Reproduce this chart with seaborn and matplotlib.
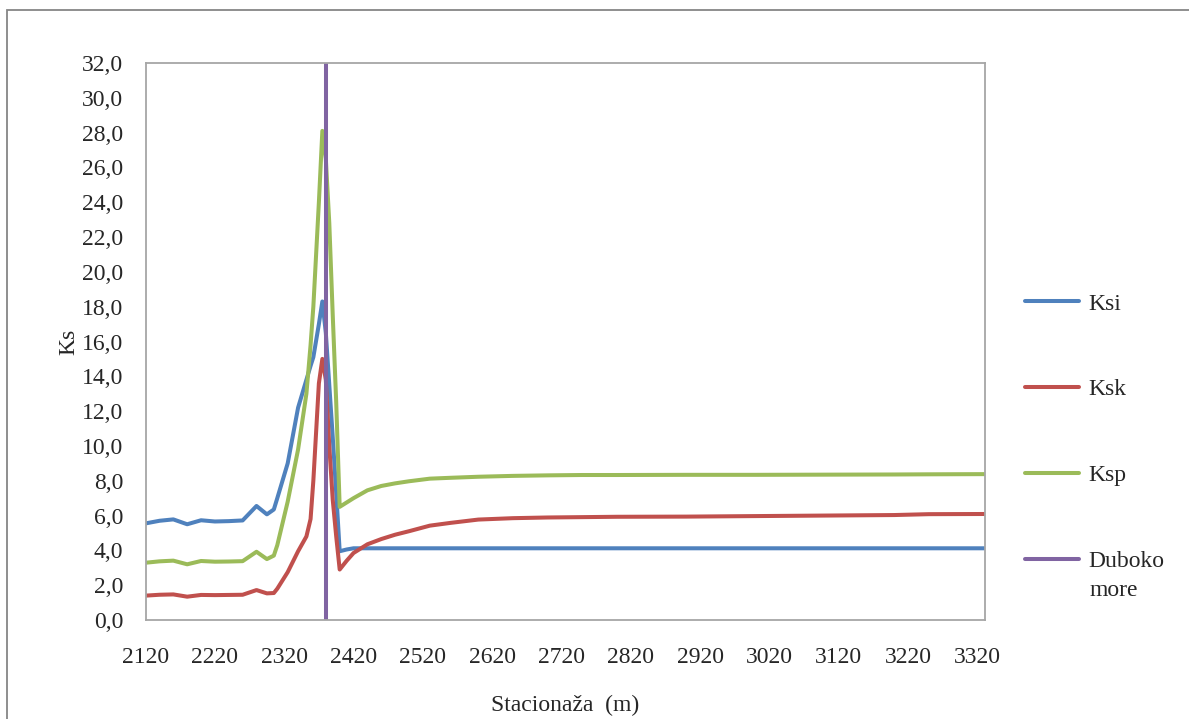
import pandas as pd
import seaborn as sns
from matplotlib import pyplot as plt
from matplotlib.patches import Rectangle

# stacionaža (m)
stations = [2120, 2140, 2160, 2180, 2200, 2220, 2240, 2260, 2280, 2295,
            2305, 2310, 2325, 2340, 2352, 2358, 2362, 2370, 2375, 2380,
            2385, 2390, 2395, 2400, 2410, 2420, 2440, 2460, 2480, 2500,
            2530, 2560, 2600, 2650, 2700, 2750, 2800, 2900, 3000, 3100,
            3200, 3250, 3330]

ksi = [5.55, 5.70, 5.78, 5.50, 5.73, 5.66, 5.68, 5.72, 6.55, 6.07,
       6.35, 7.00, 9.00, 12.2, 13.8, 14.6, 15.1, 17.0, 18.3, 16.5,
       13.5, 10.5, 7.30, 3.95, 4.05, 4.12, 4.12, 4.12, 4.12, 4.12,
       4.12, 4.12, 4.12, 4.12, 4.12, 4.12, 4.12, 4.12, 4.12, 4.12,
       4.12, 4.12, 4.12]

ksk = [1.40, 1.45, 1.47, 1.34, 1.44, 1.43, 1.44, 1.45, 1.72, 1.53,
       1.55, 1.80, 2.75, 3.95, 4.80, 5.80, 8.00, 13.6, 15.0, 13.8,
       10.0, 6.90, 4.80, 2.90, 3.40, 3.85, 4.35, 4.65, 4.90, 5.10,
       5.42, 5.58, 5.77, 5.85, 5.89, 5.91, 5.93, 5.94, 5.97, 6.00,
       6.03, 6.08, 6.09]

ksp = [3.29, 3.37, 3.41, 3.20, 3.39, 3.35, 3.36, 3.38, 3.92, 3.50,
       3.70, 4.30, 6.80, 9.80, 13.0, 15.8, 18.0, 24.0, 28.1, 26.5,
       22.8, 17.5, 12.5, 6.50, 6.75, 7.00, 7.45, 7.70, 7.85, 7.97,
       8.12, 8.17, 8.23, 8.28, 8.31, 8.33, 8.33, 8.34, 8.34, 8.35,
       8.36, 8.37, 8.38]

# granica dubokog mora
deep_x = [2380, 2380]
deep_y = [0, 32]

series_names = ["Ksi", "Ksk", "Ksp", "Duboko"]
colors = ["#4F81BD", "#C0504D", "#9BBB59", "#8064A2"]

y_ticks = list(range(0, 33, 2))
y_labels = [f"{v:.1f}".replace(".", ",") for v in y_ticks]
x_ticks = list(range(2120, 3321, 100))

df = pd.concat([
    pd.DataFrame({"x": stations, "y": ksi, "s": series_names[0]}),
    pd.DataFrame({"x": stations, "y": ksk, "s": series_names[1]}),
    pd.DataFrame({"x": stations, "y": ksp, "s": series_names[2]}),
    pd.DataFrame({"x": deep_x, "y": deep_y, "s": series_names[3]}),
], ignore_index=True)

sns.set_style("white")
plt.rcParams['font.family'] = ['Liberation Serif', 'DejaVu Serif']
fs = 17

fig = plt.figure(figsize=(11.89, 7.19), dpi=100)
ax = fig.add_axes([145.6 / 1189, 99 / 719, (985 - 145.6) / 1189, (620 - 63) / 719])

sns.lineplot(data=df, x="x", y="y", hue="s", hue_order=series_names,
             palette=colors, sort=False, estimator=None, linewidth=2.9,
             solid_capstyle="round", ax=ax)

ax.set_xlim(2120, 3331)
ax.set_ylim(0, 32)
ax.set_xticks(x_ticks)
ax.set_xticklabels([str(v) for v in x_ticks])
ax.set_yticks(y_ticks)
ax.set_yticklabels(y_labels)
ax.tick_params(axis="x", length=4.5, width=1, color="#A6A6A6", pad=15, labelsize=fs)
ax.tick_params(axis="y", length=0, pad=16, labelsize=fs)
for sp in ax.spines.values():
    sp.set_color("#A6A6A6")
    sp.set_linewidth(1.3)

ax.set_xlabel("Stacionaža  (m)", fontsize=fs, labelpad=19)
ax.set_ylabel("Ks", fontsize=fs, labelpad=2)

leg = ax.legend(loc="upper left", bbox_to_anchor=(1025 / 1189, 1 - 293 / 719),
                bbox_transform=fig.transFigure, frameon=False, fontsize=fs,
                handlelength=2.3, handletextpad=0.38, labelspacing=2.72,
                borderpad=0, borderaxespad=0)
for ln in leg.get_lines():
    ln.set_linewidth(2.9)

# drugi red oznake "Duboko more"
fig.text(1089 / 1189, 1 - 590 / 719, "more", ha="left", va="center", fontsize=fs)

# okvir grafikona
fig.patches.append(Rectangle((7 / 1189, -0.1), 1.2, (719 - 10) / 719 + 0.1,
                             transform=fig.transFigure, fill=False,
                             edgecolor="#868686", linewidth=1.3))

plt.savefig("out.png", dpi=100)
